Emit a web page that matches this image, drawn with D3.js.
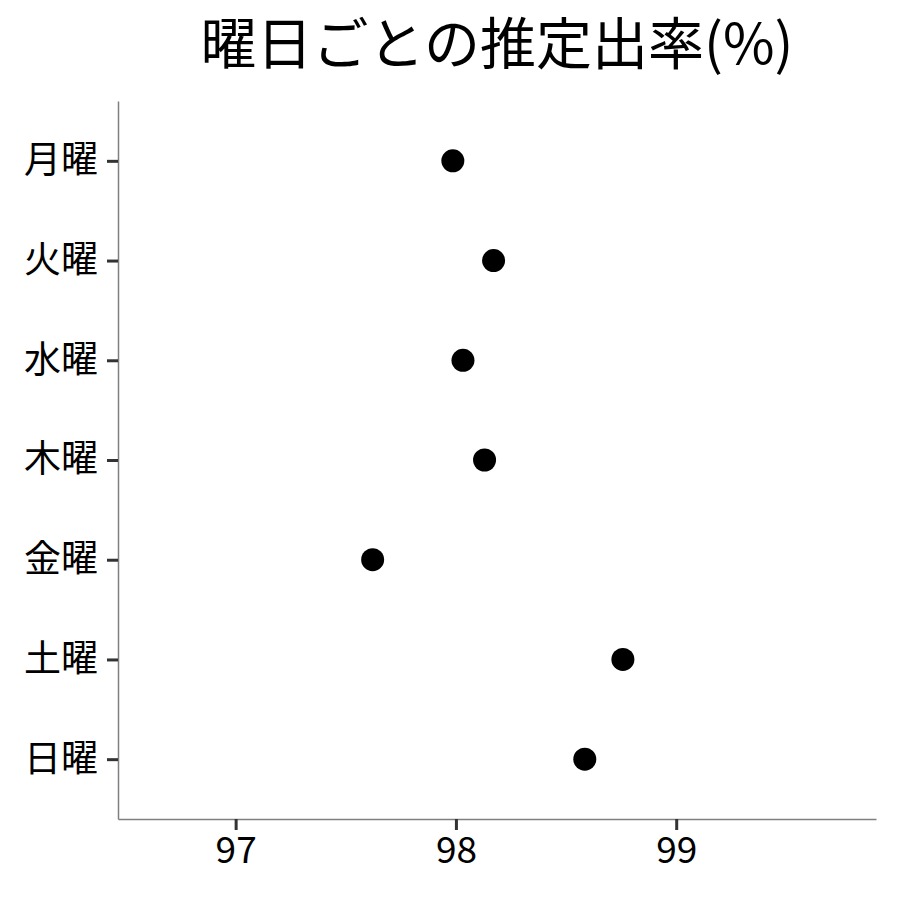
<!DOCTYPE html>
<html>
<head>
<meta charset="utf-8">
<script src="https://cdn.jsdelivr.net/npm/d3@7"></script>
<style>
  body { margin: 0; background: #fff; }
  text { font-family: "Noto Sans CJK JP", "Noto Sans", sans-serif; }
</style>
</head>
<body>
<div id="chart"></div>
<script>
// data
const days = ["月曜", "火曜", "水曜", "木曜", "金曜", "土曜", "日曜"];
const rates = [97.986, 98.171, 98.032, 98.130, 97.622, 98.758, 98.585];
const xTicks = [97, 98, 99];
const title = "曜日ごとの推定出率(%)";

const W = 900, H = 900;
const margin = { top: 101, right: 24, bottom: 81, left: 118 };
const width = W - margin.left - margin.right,
    height = H - margin.top - margin.bottom;

const svg = d3.select("#chart").append("svg")
    .attr("width", W)
    .attr("height", H);

const g = svg.append("g")
    .attr("transform", `translate(${margin.left},${margin.top})`);

const xScale = d3.scaleLinear()
    .domain([96.466, 99.907])
    .range([0, width]);

// discrete axis with ggplot-like padding
const yScale = d3.scalePoint()
    .domain(days)
    .range([0, height])
    .padding(0.6);

const font = "'Noto Sans CJK JP', sans-serif";

// x axis
const xAxis = g.append("g")
    .attr("transform", `translate(0,${height})`)
    .call(d3.axisBottom(xScale).tickValues(xTicks).tickSize(11).tickSizeOuter(0)
        .tickPadding(7).tickFormat(d3.format("d")));
xAxis.select(".domain").attr("stroke", "#7f7f7f").attr("stroke-width", 1.5);
xAxis.selectAll(".tick line").attr("stroke", "#333").attr("stroke-width", 3);
xAxis.selectAll(".tick text").attr("font-size", 37).attr("fill", "#000")
    .style("font-family", font);

// y axis
const yAxis = g.append("g")
    .call(d3.axisLeft(yScale).tickSize(11).tickSizeOuter(0).tickPadding(9));
yAxis.select(".domain").attr("stroke", "#7f7f7f").attr("stroke-width", 1.5);
yAxis.selectAll(".tick line").attr("stroke", "#333").attr("stroke-width", 3);
yAxis.selectAll(".tick text").attr("font-size", 37).attr("fill", "#000")
    .style("font-family", font);

// points
g.selectAll(".dot")
    .data(days)
    .enter().append("circle")
    .attr("class", "dot")
    .attr("cx", (d, i) => xScale(rates[i]))
    .attr("cy", d => yScale(d))
    .attr("r", 11.5)
    .attr("fill", "#000");

// title, centred over the panel
svg.append("text")
    .attr("x", margin.left + width / 2)
    .attr("y", 64)
    .attr("text-anchor", "middle")
    .attr("font-size", 56)
    .attr("fill", "#000")
    .style("font-family", font)
    .text(title);
</script>
</body>
</html>
